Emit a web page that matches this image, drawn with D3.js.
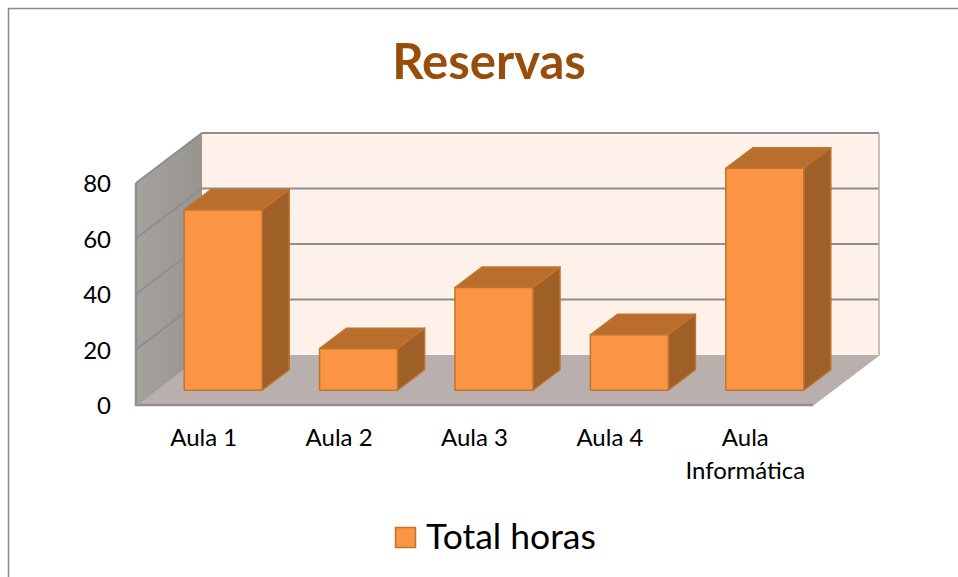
<!DOCTYPE html>
<html>
<head>
<meta charset="utf-8">
<script src="https://cdn.jsdelivr.net/npm/d3@7"></script>
<style>
  html, body { margin: 0; padding: 0; background: #fff; }
  svg { display: block; }
  text { font-family: Lato, "Open Sans", sans-serif; }
</style>
</head>
<body>
<div class="js-chart"></div>
<script>
var categories = ['Aula 1', 'Aula 2', 'Aula 3', 'Aula 4', 'Aula Informática'];
var totalHoras = [65, 15, 37, 20, 80];
var yTicks = [0, 20, 40, 60, 80];
var seriesName = 'Total horas';
var chartTitle = 'Reservas';

(function() {
  var width = 958
    , height = 577
    , left = 136
    , right = 813
    , bottom = 405
    , top = 183
    , depthX = 66
    , depthY = 50
    , barDepth = [0.295, 0.705]
    , barFront = '#fb9544'
    , barEdge = '#c0742f'
    , barSide = '#9e6027'
    , barTop = '#ba6e2d'
    , gridColor = '#8e8e8e'
    ;

  var x = d3.scaleBand().domain(categories).range([left, right]).paddingInner(0.424).paddingOuter(0.212)
    , y = d3.scaleLinear().domain([0, 80]).range([bottom, top])
    , zx = d3.scaleLinear().domain([0, 1]).range([0, depthX])
    , zy = d3.scaleLinear().domain([0, 1]).range([0, -depthY])
    ;

  // screen position of a point in the 3d box
  function pt(px, value, z) {
    return [px + zx(z), y(value) + zy(z)];
  }

  function poly(points) {
    return points.map(d => d.join(',')).join(' ');
  }

  var svg = d3.select('.js-chart')
    .append('svg')
      .attr('width', width)
      .attr('height', height);

  var defs = svg.append('defs');
  var wallGrad = defs.append('linearGradient').attr('id', 'sideWall');
  wallGrad.append('stop').attr('offset', '0%').attr('stop-color', '#a5a19d');
  wallGrad.append('stop').attr('offset', '100%').attr('stop-color', '#989490');

  // frame, only top and left show in the picture
  svg.append('path')
    .attr('d', 'M8.5,577V8.5H958')
    .attr('fill', 'none')
    .attr('stroke', '#8a8a8a')
    .attr('stroke-width', 1.5);

  svg.append('text')
    .attr('x', 489)
    .attr('y', 79)
    .attr('text-anchor', 'middle')
    .attr('font-size', 49)
    .attr('font-weight', 700)
    .attr('fill', '#984d0b')
    .text(chartTitle);

  var box = svg.append('g');

  box.append('polygon')
    .attr('points', poly([pt(left, 0, 1), pt(left, 80, 1), pt(right, 80, 1), pt(right, 0, 1)]))
    .attr('fill', '#fef1ea');

  box.append('polygon')
    .attr('points', poly([pt(left, 0, 0), pt(left, 80, 0), pt(left, 80, 1), pt(left, 0, 1)]))
    .attr('fill', 'url(#sideWall)');

  box.append('polygon')
    .attr('points', poly([pt(left, 0, 0), pt(left, 0, 1), pt(right, 0, 1), pt(right, 0, 0)]))
    .attr('fill', '#b9b0ad');

  // gridlines run along the side wall and then the back wall
  box.selectAll('.grid')
    .data(yTicks.slice(1))
    .enter()
    .append('polyline')
      .attr('class', 'grid')
      .attr('points', d => poly([pt(left, d, 0), pt(left, d, 1), pt(right, d, 1)]))
      .attr('fill', 'none')
      .attr('stroke', gridColor)
      .attr('stroke-width', 2);

  box.append('polyline')
    .attr('points', poly([pt(right, 80, 1), pt(right, 0, 1), pt(right, 0, 0)]))
    .attr('fill', 'none')
    .attr('stroke', '#b5b0ad')
    .attr('stroke-width', 1.5);

  box.append('polyline')
    .attr('points', poly([pt(left, 80, 0), pt(left, 0, 0), pt(right, 0, 0)]))
    .attr('fill', 'none')
    .attr('stroke', gridColor)
    .attr('stroke-width', 2.5);

  box.append('polyline')
    .attr('points', poly([pt(left, 0, 0), pt(left, 0, 1)]))
    .attr('fill', 'none')
    .attr('stroke', '#a09c98')
    .attr('stroke-width', 1.5);

  var bars = svg.append('g')
    .selectAll('g')
    .data(categories.map((c, i) => ({ name: c, value: totalHoras[i] })))
    .enter()
    .append('g')
      .attr('stroke', barEdge)
      .attr('stroke-width', 1.5)
      .attr('stroke-linejoin', 'round');

  var z0 = barDepth[0]
    , z1 = barDepth[1]
    ;

  bars.append('polygon')
    .attr('fill', barTop)
    .attr('points', d => {
      var a = x(d.name), b = a + x.bandwidth();
      return poly([pt(a, d.value, z0), pt(a, d.value, z1), pt(b, d.value, z1), pt(b, d.value, z0)]);
    });

  bars.append('polygon')
    .attr('fill', barSide)
    .attr('points', d => {
      var b = x(d.name) + x.bandwidth();
      return poly([pt(b, 0, z0), pt(b, d.value, z0), pt(b, d.value, z1), pt(b, 0, z1)]);
    });

  bars.append('polygon')
    .attr('fill', barFront)
    .attr('points', d => {
      var a = x(d.name), b = a + x.bandwidth();
      return poly([pt(a, 0, z0), pt(a, d.value, z0), pt(b, d.value, z0), pt(b, 0, z0)]);
    });

  var yAxis = svg.append('g')
    .attr('transform', 'translate(' + left + ',0)')
    .call(d3.axisLeft(y).tickValues(yTicks).tickSize(0).tickPadding(25));
  yAxis.select('.domain').remove();
  yAxis.selectAll('text')
    .attr('font-size', 24)
    .attr('fill', '#000')
    .style('font-family', 'Lato, "Open Sans", sans-serif')
    .attr('dy', '0.36em');

  var xAxis = svg.append('g')
    .attr('transform', 'translate(0,' + bottom + ')')
    .call(d3.axisBottom(x).tickSize(0).tickPadding(24));
  xAxis.select('.domain').remove();
  xAxis.selectAll('text')
    .attr('font-size', 24)
    .attr('fill', '#000')
    .style('font-family', 'Lato, "Open Sans", sans-serif')
    .call(wrap, 120);

  var legend = svg.append('g');
  legend.append('rect')
    .attr('x', 395.5)
    .attr('y', 527.5)
    .attr('width', 20)
    .attr('height', 20)
    .attr('fill', barFront)
    .attr('stroke', barEdge)
    .attr('stroke-width', 1.5);
  legend.append('text')
    .attr('x', 426)
    .attr('y', 549)
    .attr('font-size', 35.5)
    .attr('fill', '#000')
    .text(seriesName);

  function wrap(text, maxWidth) {
    text.each(function() {
      var label = d3.select(this)
        , words = label.text().split(/\s+/)
        , yPos = label.attr('y')
        ;
      if (label.node().getComputedTextLength() <= maxWidth) return;
      label.text(null);
      words.forEach((w, i) => {
        label.append('tspan')
          .attr('x', 0)
          .attr('y', yPos)
          .attr('dy', (0.71 + i * 1.36) + 'em')
          .text(w);
      });
    });
  }
})();
</script>
</body>
</html>
